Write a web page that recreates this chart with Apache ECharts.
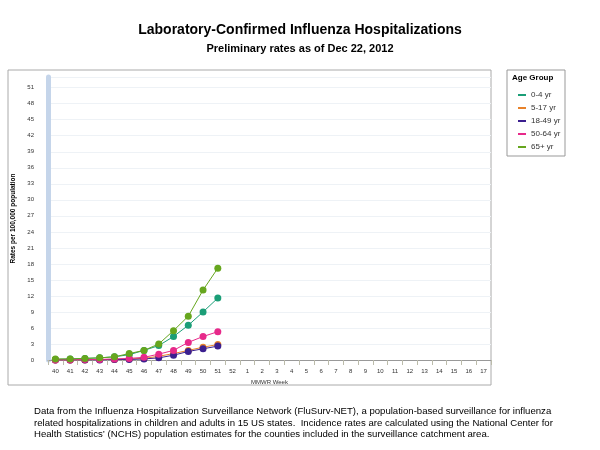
<!DOCTYPE html><html><head><meta charset="utf-8"><script src="https://cdn.jsdelivr.net/npm/echarts@6/dist/echarts.min.js"></script>
<style>body{margin:0}#c{width:600px;height:450px}</style></head><body><div id="c"></div><script>
var weeks=['40','41','42','43','44','45','46','47','48','49','50','51','52','1','2','3','4','5','6','7','8','9','10','11','12','13','14','15','16','17'];
var s04=[0.1,0.2,0.3,0.4,0.6,1.0,1.8,2.7,4.4,6.5,9.0,11.6];
var s517=[0,0,0,0.1,0.1,0.2,0.3,0.7,1.2,1.8,2.4,2.9];
var s1849=[0,0,0,0,0.1,0.1,0.2,0.4,0.9,1.6,2.1,2.6];
var s5064=[0,0,0.1,0.1,0.2,0.3,0.5,1.1,1.8,3.3,4.4,5.3];
var s65=[0.2,0.2,0.3,0.4,0.6,1.2,1.8,3.0,5.5,8.2,13.1,17.2];
var names=['0-4 yr','5-17 yr','18-49 yr','50-64 yr','65+ yr'];
var colors=['#1b9e77','#e8822a','#3b1f8f','#e7298a','#66a61e'];
var data=[s04,s517,s1849,s5064,s65];
var series=names.map(function(n,i){return {name:n,type:'line',data:data[i],symbol:'circle',symbolSize:7,color:colors[i],lineStyle:{width:1},z:i===4?5:3};});
var c=echarts.init(document.getElementById('c'));
c.setOption({animation:false,
title:[{text:'Laboratory-Confirmed Influenza Hospitalizations',left:'center',top:18,textStyle:{fontFamily:'Liberation Sans',fontSize:14,fontWeight:'bold',color:'#000'}},
{text:'Preliminary rates as of Dec 22, 2012',left:'center',top:38,textStyle:{fontFamily:'Liberation Sans',fontSize:11,fontWeight:'bold',color:'#000'}}],
graphic:[{type:'rect',shape:{x:8,y:70,width:483,height:315},style:{fill:'none',stroke:'#aaa',lineWidth:1}},
{type:'rect',shape:{x:507,y:70,width:58,height:86},style:{fill:'none',stroke:'#999',lineWidth:1}},
{type:'text',left:34,top:406,style:{text:'Data from the Influenza Hospitalization Surveillance Network (FluSurv-NET), a population-based surveillance for influenza\nrelated hospitalizations in children and adults in 15 US states.  Incidence rates are calculated using the National Center for\nHealth Statistics\u2019 (NCHS) population estimates for the counties included in the surveillance catchment area.',font:'9.6px Liberation Sans',fill:'#000',lineHeight:11.5}},
{type:'text',left:512,top:74,style:{text:'Age Group',font:'bold 8px Liberation Sans',fill:'#000'}}],
legend:{data:names,orient:'vertical',left:513,top:86,itemWidth:8,itemHeight:2,itemGap:5,icon:'rect',textStyle:{fontSize:8,fontFamily:'Liberation Sans',color:'#333'}},
grid:{left:48,right:109,top:77,bottom:90},
xAxis:{type:'category',data:weeks,name:'MMWR Week',nameLocation:'middle',nameGap:17,nameTextStyle:{fontSize:6,color:'#333'},axisLine:{lineStyle:{color:'#999'}},axisTick:{show:true,lineStyle:{color:'#bba'}},axisLabel:{fontSize:6,color:'#333'}},
yAxis:{type:'value',min:0,max:53,interval:3,name:'Rates per 100,000 population',nameLocation:'middle',nameGap:30,nameTextStyle:{fontSize:6.5,color:'#000',fontWeight:'bold'},
axisLine:{show:true,lineStyle:{color:'#c5d5ea',width:5}},axisTick:{show:false},axisLabel:{fontSize:6,color:'#333',margin:14,formatter:function(v){return v%3===0?v:'';}},splitLine:{lineStyle:{color:'#eef2f6'}}},
series:series});
</script></body></html>
